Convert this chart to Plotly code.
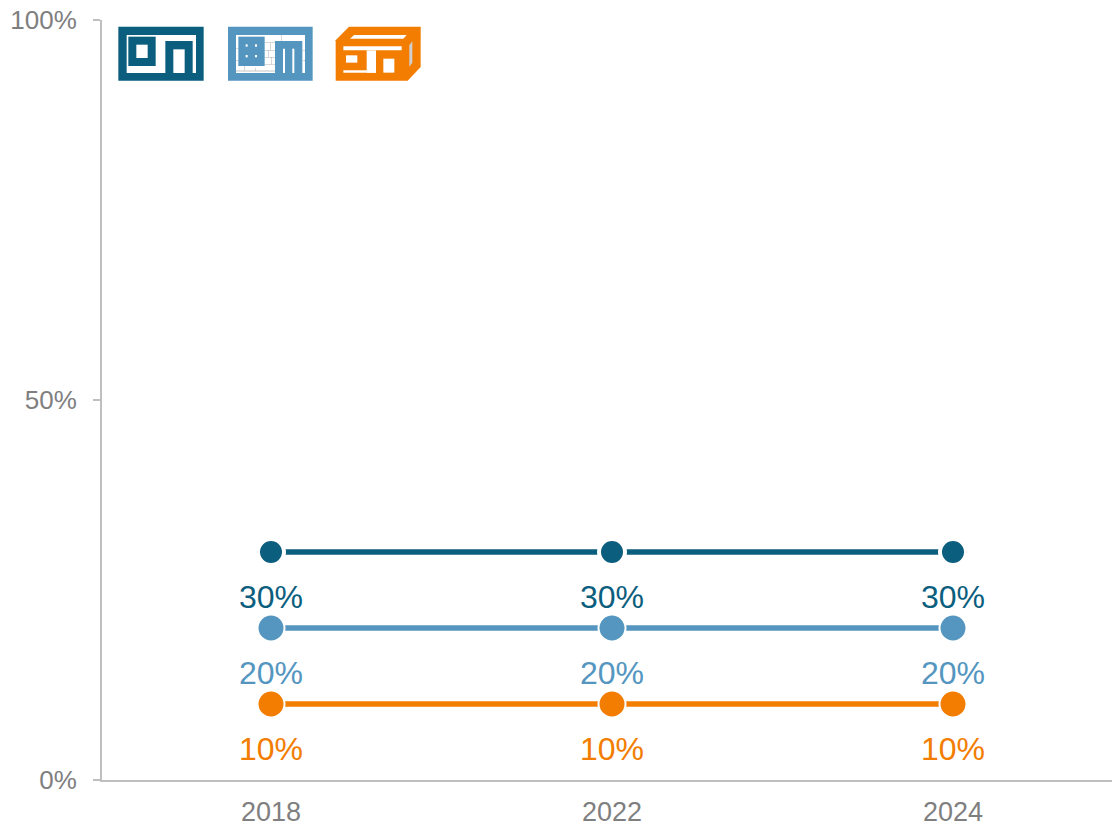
import plotly.graph_objects as go

W, H = 1112, 824
years = ["2018", "2022", "2024"]
series_a = [30, 30, 30]
series_b = [20, 20, 20]
series_c = [10, 10, 10]
y_ticks = [0, 50, 100]
y_tick_labels = ["0%", "50%", "100%"]

DARK, BLUE, ORANGE = "#0B5E7E", "#5496BF", "#F27D00"
AXIS, TEXT = "#BFBFBF", "#7F7F7F"
FONT = "Liberation Sans, Arial, sans-serif"
L, R, T, B = 102, 0, 20, 44

fig = go.Figure()
styles = [(series_a, DARK, 26, 4), (series_b, BLUE, 27, 2), (series_c, ORANGE, 27, 2)]
for vals, col, size, lw in styles:
    fig.add_trace(go.Scatter(
        x=years, y=vals, mode="lines+markers", showlegend=False,
        line=dict(color=col, width=5.5),
        marker=dict(color=col, size=size, line=dict(color="white", width=lw)),
        hoverinfo="skip"))
    for i, yv in enumerate(vals):
        fig.add_annotation(x=i, y=yv, text=f"{yv}%", showarrow=False, yshift=-45,
                           font=dict(color=col, size=32, family=FONT))

def X(p): return (p - L) / (W - L - R)
def Y(p): return (H - B - p) / (H - T - B)

shapes = []
def rect(x0, y0, x1, y1, col):
    shapes.append(dict(type="rect", xref="paper", yref="paper", x0=X(x0), x1=X(x1),
                       y0=Y(y1), y1=Y(y0), fillcolor=col, line=dict(width=0)))
def poly(points, col):
    d = "M" + " L".join(f"{X(a):.5f},{Y(b):.5f}" for a, b in points) + " Z"
    shapes.append(dict(type="path", xref="paper", yref="paper", path=d,
                       fillcolor=col, line=dict(width=0)))
def zrect(ox, oy, a, b, c, d, col):
    rect(ox + a / 3, oy + b / 3, ox + c / 3, oy + d / 3, col)
def zpoly(ox, oy, pts, col):
    poly([(ox + a / 3, oy + b / 3) for a, b in pts], col)

# Icon 1
ox, oy = 115, 22
zrect(ox, oy, 10, 14, 266, 176, DARK)
zrect(ox, oy, 35, 39, 243, 153, "white")
zrect(ox, oy, 40, 44, 122, 132, DARK)
zrect(ox, oy, 64, 68, 98, 108, "white")
zrect(ox, oy, 151, 57, 233, 153, DARK)
zrect(ox, oy, 175, 82, 209, 153, "white")

# Icon 2
ox, oy = 224, 22
zrect(ox, oy, 12, 14, 266, 176, BLUE)
zrect(ox, oy, 36, 39, 243, 153, "white")
BR = "#8A8A8A"
for a, b, c, d in [(36, 146, 153, 148), (122, 62, 153, 63), (122, 84, 153, 85), (122, 105, 153, 106),
                   (122, 127, 153, 128), (140, 62, 141, 84), (132, 84, 133, 105), (143, 105, 144, 127),
                   (60, 132, 61, 146), (95, 138, 96, 146), (172, 39, 173, 57), (236, 85, 243, 86),
                   (238, 115, 243, 116), (36, 115, 43, 116), (36, 80, 43, 81)]:
    zrect(ox, oy, a, b, c, d, BR)
zrect(ox, oy, 43, 44, 122, 132, BLUE)
for a in (65, 93):
    for b in (67, 99):
        zrect(ox, oy, a, b, a + 6, b + 7, "white")
zrect(ox, oy, 153, 57, 235, 153, BLUE)
zrect(ox, oy, 177, 80, 183, 153, "white")
zrect(ox, oy, 205, 80, 211, 153, "white")

# Icon 3
ox, oy = 330, 22
zpoly(ox, oy, [(17, 55), (57, 14), (272, 14), (272, 135), (233, 176), (17, 176)], ORANGE)
zpoly(ox, oy, [(72, 39), (230, 39), (220, 50), (60, 50)], "white")
zpoly(ox, oy, [(238, 70), (247, 58), (247, 122), (238, 134)], "#CFCFCF")
zrect(ox, oy, 40, 73, 215, 85, "white")
zrect(ox, oy, 110, 85, 138, 152, "white")
zrect(ox, oy, 40, 145, 138, 152, "white")
zrect(ox, oy, 160, 110, 193, 152, "white")
zrect(ox, oy, 48, 100, 82, 122, "white")

fig.update_layout(
    width=W, height=H, margin=dict(l=L, r=R, t=T, b=B, pad=0, autoexpand=False),
    paper_bgcolor="white", plot_bgcolor="white", shapes=shapes,
    font=dict(family=FONT, color=TEXT),
    xaxis=dict(type="category", categoryorder="array", categoryarray=years,
               range=[-0.4956, 2.4663], showgrid=False, zeroline=False, ticks="",
               showline=True, linecolor=AXIS, linewidth=2, ticklabelstandoff=7,
               tickfont=dict(size=27, color=TEXT, family=FONT)),
    yaxis=dict(range=[0, 100], tickvals=y_ticks, ticktext=y_tick_labels, showgrid=False,
               zeroline=False, showline=True, linecolor=AXIS, linewidth=2,
               ticks="outside", ticklen=7, tickwidth=2, tickcolor=AXIS,
               ticklabelstandoff=11,
               tickfont=dict(size=26, color=TEXT, family=FONT)),
)

fig.write_html("out.html", config=dict(displayModeBar=False),
               post_script="document.body.style.margin='0';document.body.style.overflow='hidden';")
